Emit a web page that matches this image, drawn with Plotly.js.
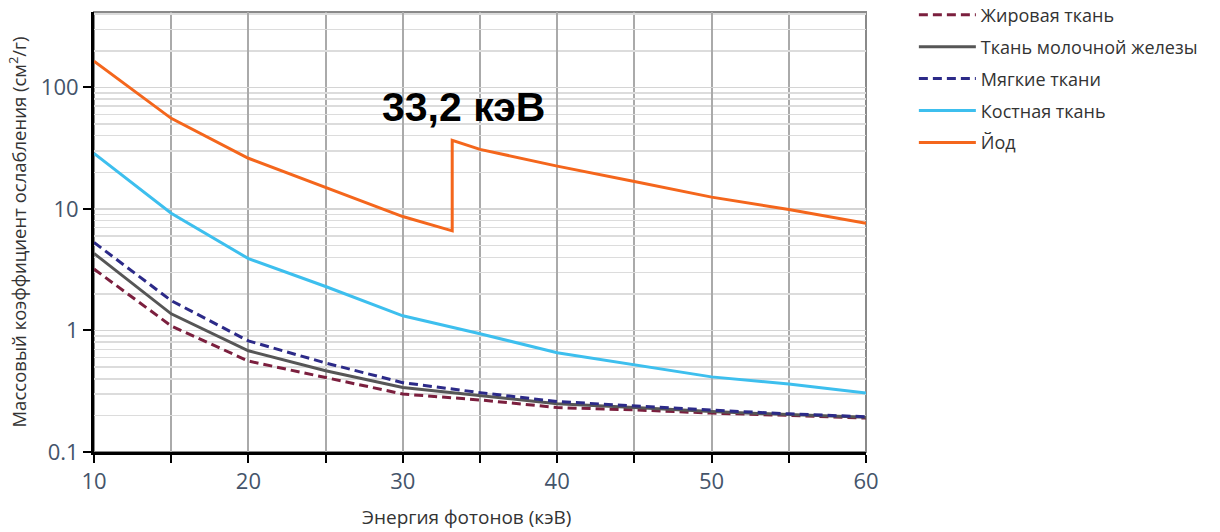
<!DOCTYPE html>
<html>
<head>
<meta charset="utf-8">
<script src="https://cdn.plot.ly/plotly-3.0.1.min.js"></script>
<style>html,body{margin:0;padding:0;background:#fff;}#chart{width:1220px;height:532px;}</style>
</head>
<body>
<div id="chart"></div>
<script>
const energy = [10, 15, 20, 25, 30, 35, 40, 45, 50, 55, 60];
const energyIodine = [10, 15, 20, 25, 30, 33.2, 33.2, 35, 40, 45, 50, 55, 60];
const fat = [3.2, 1.09, 0.56, 0.41, 0.30, 0.268, 0.232, 0.222, 0.209, 0.200, 0.19];
const breast = [4.3, 1.37, 0.68, 0.466, 0.339, 0.29, 0.25, 0.232, 0.215, 0.203, 0.193];
const softTissue = [5.3, 1.76, 0.82, 0.54, 0.372, 0.308, 0.26, 0.239, 0.221, 0.206, 0.195];
const bone = [28.6, 9.2, 3.9, 2.3, 1.32, 0.94, 0.655, 0.52, 0.415, 0.363, 0.306];
const iodine = [164, 55.6, 26.1, 15.0, 8.65, 6.6, 36.6, 30.9, 22.5, 16.8, 12.5, 9.9, 7.6];
const names = ['Жировая ткань', 'Ткань молочной железы', 'Мягкие ткани', 'Костная ткань', 'Йод'];
const edgeLabel = '33,2 кэВ';
const yTickVals = [0.1, 1, 10, 100];
const yTickText = ['0.1', '1', '10', '100'];

const FONT = 'Open Sans, Liberation Sans, sans-serif';
const dash = '9px,5px';
function tr(x, y, name, color, d, g) {
  return {x: x, y: y, name: name, type: 'scatter', mode: 'lines',
    line: {color: color, width: 3, dash: d || 'solid'}, legendgroup: g, hoverinfo: 'skip'};
}
const data = [
  tr(energy, fat, names[0], '#7b1f3e', dash, 'a'),
  tr(energy, breast, names[1], '#565656', 'solid', 'b'),
  tr(energy, softTissue, names[2], '#2c2a88', dash, 'c'),
  tr(energy, bone, names[3], '#3dbfee', 'solid', 'd'),
  tr(energyIodine, iodine, names[4], '#f4661c', 'solid', 'e')
];
const layout = {
  width: 1220, height: 532,
  margin: {l: 94, r: 354, t: 12, b: 80, autoexpand: false},
  paper_bgcolor: '#fff', plot_bgcolor: '#fff',
  font: {family: FONT, color: '#333'},
  showlegend: true,
  legend: {x: 1.062, y: 1.035, xanchor: 'left', yanchor: 'top',
    font: {family: FONT, size: 18, color: '#333'},
    traceorder: 'grouped', tracegroupgap: 5.5, itemwidth: 57, bgcolor: 'rgba(0,0,0,0)'},
  xaxis: {range: [10, 60], dtick: 10, tick0: 10, showgrid: true, gridcolor: '#aaaaaa', gridwidth: 2,
    ticks: 'outside', ticklen: 8, tickwidth: 2, tickcolor: '#000',
    showline: true, linecolor: '#000', linewidth: 3, zeroline: false,
    tickfont: {family: FONT, size: 22, color: '#44546a'},
    minor: {dtick: 5, showgrid: true, gridcolor: '#aaaaaa', gridwidth: 2, ticks: 'outside', ticklen: 8, tickwidth: 2, tickcolor: '#000'}},
  yaxis: {type: 'log', range: [-1, 2.62], tickvals: yTickVals, ticktext: yTickText,
    showgrid: true, gridcolor: '#d4d4d4', gridwidth: 1.5,
    ticks: 'outside', ticklen: 8, tickwidth: 2, tickcolor: '#000',
    showline: true, linecolor: '#000', linewidth: 3, zeroline: false,
    tickfont: {family: FONT, size: 22, color: '#44546a'},
    minor: {dtick: 'D1', showgrid: true, gridcolor: '#dcdcdc', gridwidth: 1.5, ticks: ''},
    title: {text: 'Массовый коэффициент ослабления (см<sup>2</sup>/г)', font: {family: FONT, size: 18.5, color: '#333'}, standoff: 10}},
  shapes: [{type: 'rect', xref: 'paper', yref: 'paper', x0: 0, x1: 1, y0: 0, y1: 1,
    line: {color: '#8a8a8a', width: 2}, layer: 'below'}],
  annotations: [
    {text: '<b>' + edgeLabel + '</b>', xref: 'paper', yref: 'paper', x: 0.479, y: 0.785,
      xanchor: 'center', yanchor: 'middle', showarrow: false,
      font: {family: 'Liberation Sans, Arial, sans-serif', size: 41, color: '#000'}},
    {text: 'Энергия фотонов (кэВ)', xref: 'paper', yref: 'paper', x: 0.482, y: -0.148,
      xanchor: 'center', yanchor: 'middle', showarrow: false,
      font: {family: FONT, size: 19, color: '#333'}}
  ]
};
Plotly.newPlot('chart', data, layout, {displayModeBar: false, staticPlot: true});
</script>
</body>
</html>
